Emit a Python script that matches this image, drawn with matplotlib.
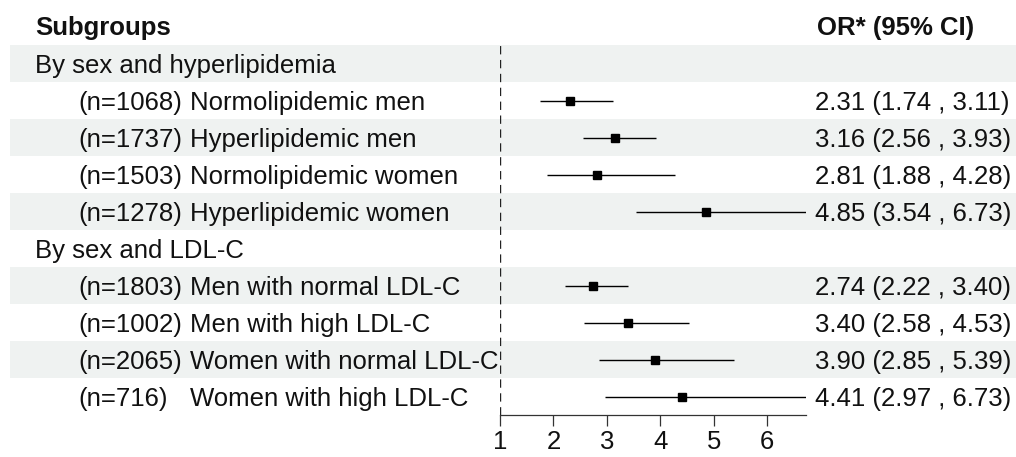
import matplotlib
matplotlib.use("Agg")
import matplotlib.pyplot as plt

plt.rcParams['font.family'] = ['Liberation Sans', 'DejaVu Sans']

# ---- data ----
row_kind = ["group", "sub", "sub", "sub", "sub", "group", "sub", "sub", "sub", "sub"]
group_labels = ["By sex and hyperlipidemia", "By sex and LDL-C"]
n_labels = ["(n=1068)", "(n=1737)", "(n=1503)", "(n=1278)",
            "(n=1803)", "(n=1002)", "(n=2065)", "(n=716)"]
names = ["Normolipidemic men", "Hyperlipidemic men", "Normolipidemic women",
         "Hyperlipidemic women", "Men with normal LDL-C", "Men with high LDL-C",
         "Women with normal LDL-C", "Women with high LDL-C"]
odds = [2.31, 3.16, 2.81, 4.85, 2.74, 3.40, 3.90, 4.41]
lower = [1.74, 2.56, 1.88, 3.54, 2.22, 2.58, 2.85, 2.97]
upper = [3.11, 3.93, 4.28, 6.73, 3.40, 4.53, 5.39, 6.73]
xticks = [1, 2, 3, 4, 5, 6]

W, H = 1016, 457
fig = plt.figure(figsize=(W / 100, H / 100), dpi=100)
top_px, bot_px = 45, 415
bottom = (H - bot_px) / H
height = (bot_px - top_px) / H
nrows = len(row_kind)

FS = 18.5
band = '#eff2f1'
tc = '#111111'
dy = 0.06

bg = fig.add_axes([0, bottom, 1, height])
bg.set_xlim(0, W)
bg.set_ylim(nrows - 0.5, -0.5)
bg.axis('off')
for i in range(nrows):
    if i % 2 == 0:
        bg.axhspan(i - 0.5, i + 0.5, xmin=10 / W, xmax=1, color=band, lw=0, zorder=0)

header_y = -0.97
bg.text(35, header_y, "Subgroups", fontsize=FS, fontweight='bold', va='center', ha='left',
        clip_on=False, color=tc)
bg.text(817, header_y, "OR* (95% CI)", fontsize=FS, fontweight='bold', va='center', ha='left',
        clip_on=False, color=tc)

gi = 0
si = 0
sub_rows = []
for i, k in enumerate(row_kind):
    if k == "group":
        bg.text(35, i + dy, group_labels[gi], fontsize=FS, va='center', ha='left', color=tc)
        gi += 1
    else:
        bg.text(78, i + dy, n_labels[si], fontsize=FS, va='center', ha='left', color=tc)
        bg.text(190, i + dy, names[si], fontsize=FS, va='center', ha='left', color=tc)
        bg.text(815, i + dy, f"{odds[si]:.2f} ({lower[si]:.2f} , {upper[si]:.2f})",
                fontsize=FS, va='center', ha='left', color=tc)
        sub_rows.append(i)
        si += 1

ax = fig.add_axes([500 / W, bottom, 306 / W, height])
ax.set_facecolor('none')
ax.set_xlim(1, 6.73)
ax.set_ylim(nrows - 0.5, -0.5)
for s in ['top', 'right', 'left']:
    ax.spines[s].set_visible(False)
ax.spines['bottom'].set_linewidth(0.9)
ax.spines['bottom'].set_color('#333333')
ax.set_yticks([])
ax.set_xticks(xticks)
ax.set_xticklabels([str(t) for t in xticks], fontsize=FS, color=tc)
ax.tick_params(axis='x', length=8, width=0.9, color='#333333', pad=3)

ax.axvline(1, color='#222222', lw=1.0, ls=(0, (6, 4)), zorder=1)
ax.hlines(sub_rows, lower, upper, color='black', lw=1.0, zorder=2)
ax.plot(odds, sub_rows, 's', color='black', ms=6, zorder=3, clip_on=False)

fig.savefig("out.png", dpi=100)
